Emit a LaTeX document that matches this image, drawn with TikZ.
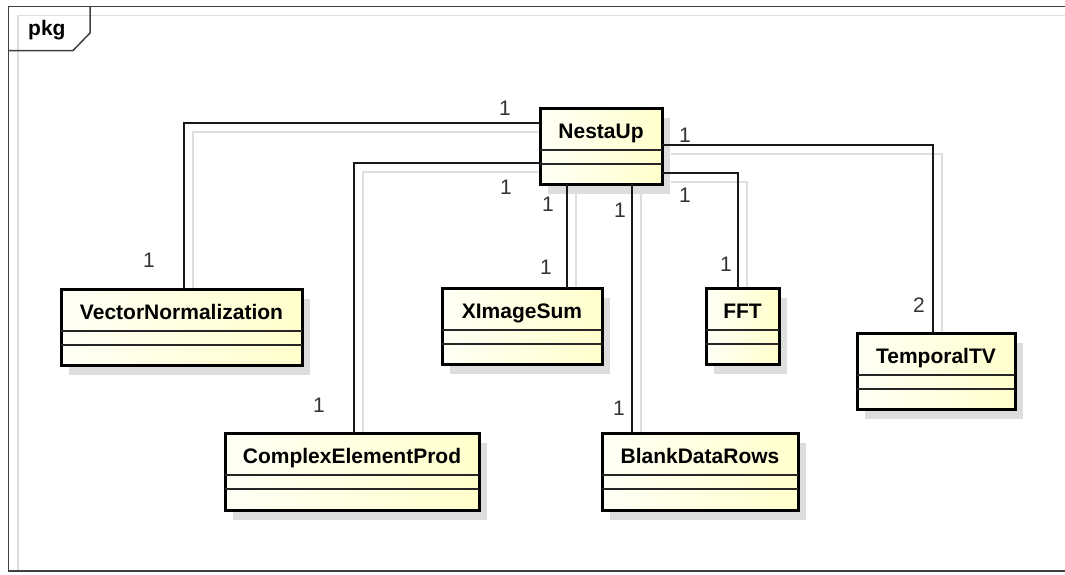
\documentclass[tikz,border=0pt]{standalone}
\usepackage{fontspec}
\setmainfont{Liberation Sans}
\pgfdeclarelayer{bg}
\pgfsetlayers{bg,main}
\definecolor{clsL}{RGB}{255,255,246}
\definecolor{clsR}{RGB}{255,255,204}
\definecolor{shd}{RGB}{221,221,221}
\definecolor{lnshd}{RGB}{222,222,222}
\definecolor{mult}{RGB}{51,51,51}
\definecolor{frm}{RGB}{64,64,64}
\tikzset{
  clsbox/.style={draw=black, line width=3pt, left color=clsL, right color=clsR, inner sep=0pt, outer sep=0pt, anchor=north west},
  cmp/.style={line width=1.3pt, black!85},
  clsname/.style={font=\fontsize{21}{24}\selectfont\bfseries, anchor=base, inner sep=0pt},
  assoc/.style={line width=1.8pt, black!90},
  assocshd/.style={line width=1.8pt, lnshd},
  mlabel/.style={font=\fontsize{21}{24}\selectfont, text=mult, inner sep=0pt},
  frame/.style={line width=1.5pt, frm},
}
% name, left, top, right, bottom, text
\newcommand{\umlcls}[6]{%
  \begin{pgfonlayer}{bg}
    \fill[shd] (#2+8,#3+10) rectangle (#4+8,#5+10);
  \end{pgfonlayer}
  \node[clsbox, minimum width={#4-#2}, minimum height={#5-#3}] (#1) at (#2,#3) {};
  \draw[cmp] ([yshift=-42pt]#1.north west) -- ([yshift=-42pt]#1.north east);
  \draw[cmp] ([yshift=-56pt]#1.north west) -- ([yshift=-56pt]#1.north east);
  \node[clsname] (#1-name) at ([yshift=-30pt]#1.north) {#6};
}
% start shift, start node, end shift, end node, path op
\newcommand{\assocpath}[5]{%
  \begin{pgfonlayer}{bg}
    \draw[assocshd] ([#1,xshift=9pt,yshift=-9pt]#2) #5 ([#3,xshift=9pt,yshift=-9pt]#4);
  \end{pgfonlayer}
  \draw[assoc] ([#1]#2) #5 ([#3]#4);
}
\begin{document}
\begin{tikzpicture}[x=1pt,y=-1pt]
\useasboundingbox (0,0) rectangle (1065,574);
\begin{pgfonlayer}{bg}
\fill[white] (0,0) rectangle (1065,574);
\draw[lnshd, line width=1.2pt] (18,571) -- (18,15.5) -- (1070,15.5);
\end{pgfonlayer}
% frame
\draw[frame] (1070,6.5) -- (8.5,6.5) -- (8.5,571) -- (1070,571);
\draw[frame] (90,6.5) -- (90,33) -- (73,50.5) -- (8.5,50.5);
\node[font=\fontsize{21}{24}\selectfont\bfseries, anchor=base west, inner sep=0pt] (pkg) at (28,35) {pkg};
% classes
\umlcls{nu}{540}{108}{662}{184}{NestaUp}
\umlcls{vn}{61}{289}{302}{365}{VectorNormalization}
\umlcls{xis}{442}{288}{602}{364}{XImageSum}
\umlcls{fft}{706}{288}{779}{364}{FFT}
\umlcls{ttv}{857}{333}{1015}{409}{TemporalTV}
\umlcls{cep}{225}{433}{479}{510}{ComplexElementProd}
\umlcls{bdr}{602}{433}{798}{510}{BlankDataRows}
% associations
\assocpath{yshift=-15pt}{nu.north west}{xshift=2.5pt}{vn.north}{-|}
\assocpath{yshift=-55pt}{nu.north west}{xshift=2pt}{cep.north}{-|}
\assocpath{xshift=27pt}{nu.south west}{xshift=45pt}{xis.north}{--}
\assocpath{xshift=92pt}{nu.south west}{xshift=-68pt}{bdr.north}{--}
\assocpath{yshift=-65pt}{nu.north east}{xshift=-4.5pt}{fft.north}{-|}
\assocpath{yshift=-37pt}{nu.north east}{xshift=-3pt}{ttv.north}{-|}
% multiplicities
\node[mlabel] (m1a) at (505,108) {1};
\node[mlabel] (m1b) at (149,260) {1};
\node[mlabel] (m2a) at (506,187) {1};
\node[mlabel] (m2b) at (319,405) {1};
\node[mlabel] (m3a) at (548,204) {1};
\node[mlabel] (m3b) at (546,267) {1};
\node[mlabel] (m4a) at (620,210) {1};
\node[mlabel] (m4b) at (619,408) {1};
\node[mlabel] (m5a) at (685,195) {1};
\node[mlabel] (m5b) at (726,264) {1};
\node[mlabel] (m6a) at (685,135) {1};
\node[mlabel] (m6b) at (919,305) {2};
\end{tikzpicture}
\end{document}
